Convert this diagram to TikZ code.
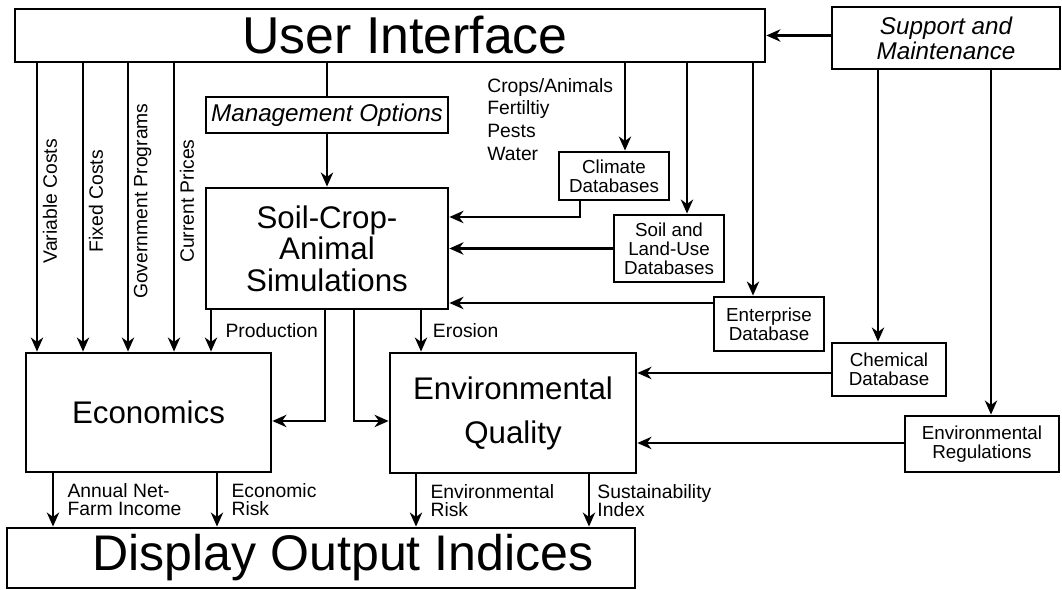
\documentclass[tikz,border=0pt]{standalone}
\usepackage{fontspec}
\setmainfont{Liberation Sans}
\usetikzlibrary{arrows.meta, positioning, calc}
\tikzset{
  box/.style={rectangle, draw=black, line width=1.6pt, align=center, inner sep=1pt},
  bigbox/.style={box, font=\fontsize{28.5}{30}\selectfont},
  midbox/.style={box, font=\fontsize{17.8}{18}\selectfont},
  italbox/.style={box, font=\fontsize{13.8}{14.2}\selectfont\itshape},
  dbbox/.style={box, font=\fontsize{10.7}{10.8}\selectfont},
  arrow/.style={-{Stealth[length=8pt, width=7pt, inset=2.5pt]}, line width=1.6pt},
  line/.style={line width=1.6pt},
  flowlabel/.style={font=\fontsize{11}{10.3}\selectfont, align=left, anchor=west,
    inner sep=0pt, xshift=7.5pt}
}
\begin{document}
\begin{tikzpicture}[x=0.02cm, y=-0.02cm,
  sidelabel/.style={font=\fontsize{11}{12}\selectfont, rotate=90, anchor=north, inner sep=2.5pt}
]
  \useasboundingbox (0,0) rectangle (1062,590);
  \node[bigbox, font=\fontsize{29.5}{30}\selectfont, minimum width=15cm, minimum height=1.06cm] (ui) at (390,35.5) {\hspace*{0.6cm}User Interface};
  \node[italbox, minimum width=4.56cm, minimum height=1.24cm] (support) at (946,38) {Support and\\Maintenance};
  \node[italbox, minimum width=4.84cm, minimum height=0.72cm] (mgmt) at (327,115) {Management Options};
  \node[midbox, minimum width=4.84cm, minimum height=2.42cm] (sim) at (327,248.5) {\rule{0pt}{12pt}Soil-Crop-\\Animal\\Simulations};
  \node[font=\fontsize{11}{13}\selectfont, align=left, anchor=west, inner sep=0pt] (inputs) at (487,119.5) {Crops/Animals\\Fertiltiy\\Pests\\Water};
  \node[dbbox, minimum width=2.2cm, minimum height=0.96cm] (climate) at (614,176) {Climate\\Databases};
  \node[dbbox, minimum width=2.2cm, minimum height=1.34cm] (landuse) at (669,248.5) {Soil and\\Land-Use\\Databases};
  \node[dbbox, minimum width=2.2cm, minimum height=1.08cm] (enterprise) at (769,324) {Enterprise\\Database};
  \node[dbbox, minimum width=2.28cm, minimum height=1.06cm] (chemical) at (889,369.5) {Chemical\\Database};
  \node[dbbox, minimum width=3.08cm, minimum height=1.12cm] (regs) at (982,444) {Environmental\\Regulations};
  \node[midbox, minimum width=4.9cm, minimum height=2.38cm] (econ) at (148.5,412.5) {Economics};
  \node[midbox, minimum width=4.92cm, minimum height=2.4cm, font=\fontsize{17.8}{25}\selectfont] (envq) at (513,413) {Environmental\\Quality};
  \node[bigbox, minimum width=12.56cm, minimum height=1.2cm] (display) at (321,558) {\hspace*{0.88cm}Display Output Indices};

  \draw[arrow] (ui.east -| support.west) -- (ui.east);
  \draw[line] (ui.south -| mgmt.north) -- (mgmt.north);
  \draw[arrow] (mgmt) -- (sim);
  \foreach \x/\txt in {37/Variable Costs, 83/Fixed Costs, 128/Government Programs, 174/Current Prices}
    \draw[arrow] (ui.south -| \x,0) -- node[sidelabel, pos=.478] {\txt} (econ.north -| \x,0);
  \draw[arrow] (ui.south -| 625,0) -- (climate.north -| 625,0);
  \draw[arrow] (ui.south -| 687,0) -- (landuse.north -| 687,0);
  \draw[arrow] (ui.south -| 753,0) -- (enterprise.north -| 753,0);
  \draw[arrow] (support.south -| 878,0) -- (chemical.north -| 878,0);
  \draw[arrow] (support.south -| 991,0) -- (regs.north -| 991,0);
  \draw[arrow] (climate.south -| 580,0) |- (sim.east |- 0,217);
  \draw[arrow] (landuse.west) -- (landuse.west -| sim.east);
  \draw[arrow] (enterprise.west |- 0,303) -- (sim.east |- 0,303);
  \draw[arrow] (chemical.west |- 0,373) -- (envq.east |- 0,373);
  \draw[arrow] (regs.west |- 0,443) -- (envq.east |- 0,443);
  \draw[arrow] (sim.south -| 211,0) -- node[flowlabel] {Production} (econ.north -| 211,0);
  \draw[arrow] (sim.south -| 325,0) |- (econ.east |- 0,421);
  \draw[arrow] (sim.south -| 354,0) |- (envq.west |- 0,421);
  \draw[arrow] (sim.south -| 421,0) -- node[flowlabel, xshift=-1.5pt] {Erosion} (envq.north -| 421,0);
  \draw[arrow] (econ.south -| 53,0) -- node[flowlabel] {Annual Net-\\Farm Income} (display.north -| 53,0);
  \draw[arrow] (econ.south -| 217,0) -- node[flowlabel] {Economic\\Risk} (display.north -| 217,0);
  \draw[arrow] (envq.south -| 416,0) -- node[flowlabel] {Environmental\\Risk} (display.north -| 416,0);
  \draw[arrow] (envq.south -| 589,0) -- node[flowlabel, xshift=-3.5pt] {Sustainability\\Index} (display.north -| 589,0);
\end{tikzpicture}
\end{document}
